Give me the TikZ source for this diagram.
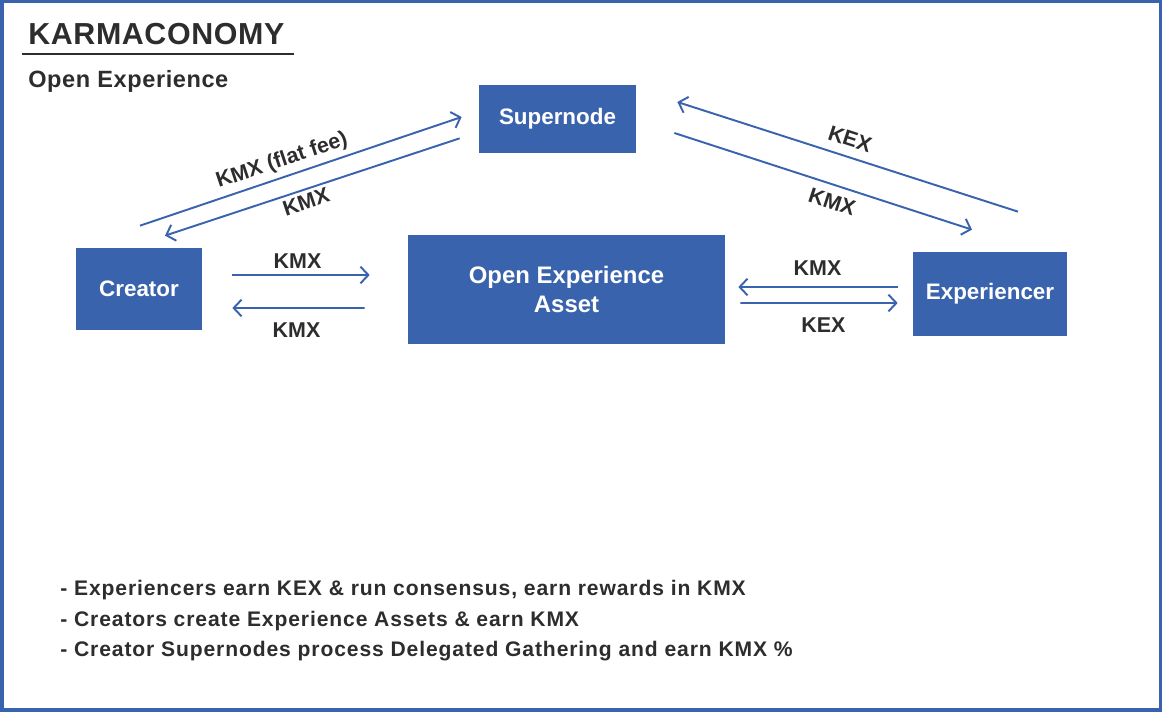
\documentclass[tikz,border=0pt]{standalone}
\usepackage{fontspec}
\setmainfont{Liberation Sans}
\newfontfamily\notesfont[LetterSpace=4.2]{Liberation Sans}
\newfontfamily\headfont[LetterSpace=2]{Liberation Sans}
\newfontfamily\subheadfont[LetterSpace=2.5]{Liberation Sans}
\usetikzlibrary{arrows.meta, calc}
\definecolor{karmablue}{RGB}{58,99,174}
\definecolor{inkgray}{RGB}{45,45,45}

\begin{document}
\begin{tikzpicture}[
    x=0.02cm, y=-0.02cm,
    block/.style={fill=karmablue, text=white, inner sep=0pt, align=center, font=\fontsize{12.75}{15}\selectfont\bfseries},
    flow/.style={draw=karmablue, line width=1.1pt, -{Straight Barb[length=4.5pt, width=9.5pt]}},
    tag/.style={text=inkgray, inner sep=0pt, font=\fontsize{12.2}{14}\selectfont\bfseries}
]
    \useasboundingbox (0,0) rectangle (1162,712);
    \draw[karmablue, line width=2pt] (1.75,1.75) rectangle (1160.25,710.25);

    % heading
    \node[anchor=base west, inner sep=0pt, text=inkgray, font=\headfont\fontsize{17.3}{20}\selectfont\bfseries] (title) at (28,45) {KARMACONOMY};
    \draw[inkgray, line width=1.2pt] (22,54) -- (294,54);
    \node[anchor=base west, inner sep=0pt, text=inkgray, font=\subheadfont\fontsize{13.4}{16}\selectfont\bfseries] (subtitle) at (28,88) {Open Experience};

    % actors
    \node[block, minimum width=3.14cm, minimum height=1.36cm] (supernode) at (557.5,119) {Supernode};
    \node[block, minimum width=2.52cm, minimum height=1.64cm] (creator) at (139,289) {Creator};
    \node[block, minimum width=6.34cm, minimum height=2.18cm, font=\fontsize{13.6}{16.3}\selectfont\bfseries] (asset) at (566.5,289.5) {Open Experience\\Asset};
    \node[block, minimum width=3.08cm, minimum height=1.68cm] (experiencer) at (990,294) {Experiencer};

    % token flows
    \draw[flow] ($(creator.north)+(1,-22)$) -- ($(supernode.west)+(-17,-2)$);
    \draw[flow] ($(supernode.south west)+(-19,-15)$) -- ($(creator.north)+(26,-12)$);
    \draw[flow] ($(supernode.east)+(38,14)$) -- ($(experiencer.north)+(-18,-22)$);
    \draw[flow] ($(experiencer.north)+(28,-40)$) -- ($(supernode.east)+(41,-17)$);
    \draw[flow] ($(creator.east)+(30,-14)$) -- ($(asset.west)+(-38,-14.5)$);
    \draw[flow] ($(asset.west)+(-43,18.5)$) -- ($(creator.east)+(30,19)$);
    \draw[flow] ($(experiencer.west)+(-15,-7)$) -- ($(asset.east)+(13,-2.5)$);
    \draw[flow] ($(asset.east)+(15,13.5)$) -- ($(experiencer.west)+(-15,9)$);

    \node[tag, rotate=18.5] (feetag) at (282,161) {KMX (flat fee)};
    \node[tag, rotate=18.5] (backtag) at (306,202) {KMX};
    \node[tag, rotate=-18] (kextag) at (850,139) {KEX};
    \node[tag, rotate=-18] (kmxtag) at (832,202) {KMX};
    \node[tag] (paytag) at (297.5,261.5) {KMX};
    \node[tag] (earntag) at (296.5,330.5) {KMX};
    \node[tag] (rewardtag) at (817.5,268.5) {KMX};
    \node[tag] (gaintag) at (823.5,325.5) {KEX};

    % notes
    \node[anchor=north west, inner sep=0pt, align=left, text=inkgray, font=\notesfont\fontsize{12}{17.3}\selectfont\bfseries] (notes) at (60,580)
        {- Experiencers earn KEX \& run consensus, earn rewards in KMX\\
         - Creators create Experience Assets \& earn KMX\\
         - Creator Supernodes process Delegated Gathering and earn KMX \%};
\end{tikzpicture}
\end{document}
